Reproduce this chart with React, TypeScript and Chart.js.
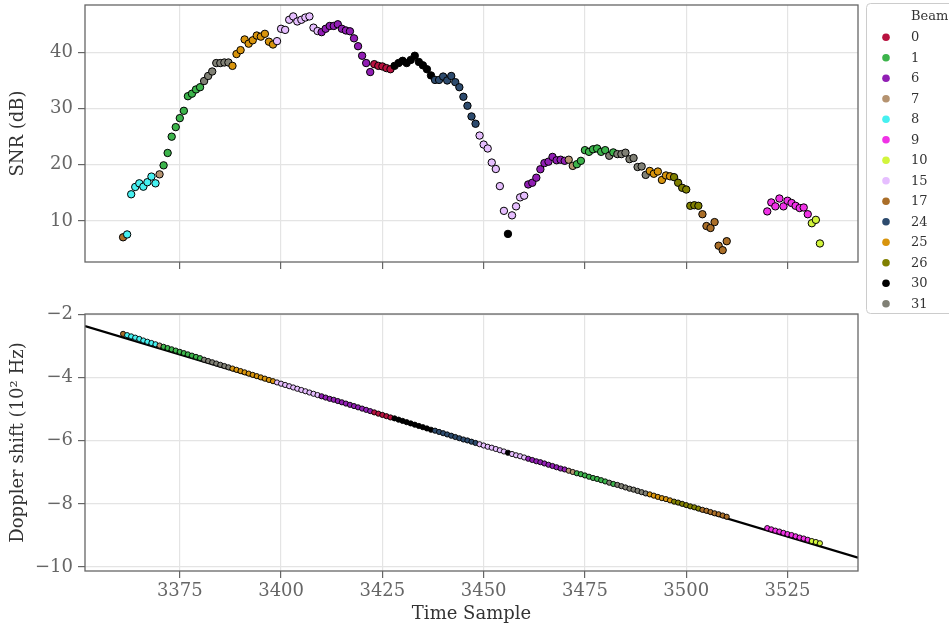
import React, { useEffect, useRef } from "react";
import { Chart, registerables } from "chart.js";

Chart.register(...registerables);

// ---------- data ----------
const timeSample = [
  3361, 3362, 3363, 3364, 3365, 3366, 3367, 3368, 3369, 3370,
  3371, 3372, 3373, 3374, 3375, 3376, 3377, 3378, 3379, 3380,
  3381, 3382, 3383, 3384, 3385, 3386, 3387, 3388, 3389, 3390,
  3391, 3392, 3393, 3394, 3395, 3396, 3397, 3398, 3399, 3400,
  3401, 3402, 3403, 3404, 3405, 3406, 3407, 3408, 3409, 3410,
  3411, 3412, 3413, 3414, 3415, 3416, 3417, 3418, 3419, 3420,
  3421, 3422, 3423, 3424, 3425, 3426, 3427, 3428, 3429, 3430,
  3431, 3432, 3433, 3434, 3435, 3436, 3437, 3438, 3439, 3440,
  3441, 3442, 3443, 3444, 3445, 3446, 3447, 3448, 3449, 3450,
  3451, 3452, 3453, 3454, 3455, 3456, 3457, 3458, 3459, 3460,
  3461, 3462, 3463, 3464, 3465, 3466, 3467, 3468, 3469, 3470,
  3471, 3472, 3473, 3474, 3475, 3476, 3477, 3478, 3479, 3480,
  3481, 3482, 3483, 3484, 3485, 3486, 3487, 3488, 3489, 3490,
  3491, 3492, 3493, 3494, 3495, 3496, 3497, 3498, 3499, 3500,
  3501, 3502, 3503, 3504, 3505, 3506, 3507, 3508, 3509, 3510,
  3520, 3521, 3522, 3523, 3524, 3525, 3526, 3527, 3528, 3529,
  3530, 3531, 3532, 3533,
];

const beamId = [
  17, 8, 8, 8, 8, 8, 8, 8, 8, 7,
  1, 1, 1, 1, 1, 1, 1, 1, 1, 1,
  31, 31, 31, 31, 31, 31, 31, 25, 25, 25,
  25, 25, 25, 25, 25, 25, 25, 25, 15, 15,
  15, 15, 15, 15, 15, 15, 15, 15, 15, 6,
  6, 6, 6, 6, 6, 6, 6, 6, 6, 6,
  6, 6, 0, 0, 0, 0, 0, 30, 30, 30,
  30, 30, 30, 30, 30, 30, 30, 24, 24, 24,
  24, 24, 24, 24, 24, 24, 24, 24, 15, 15,
  15, 15, 15, 15, 15, 30, 15, 15, 15, 15,
  6, 6, 6, 6, 6, 6, 6, 6, 6, 6,
  7, 7, 1, 1, 1, 1, 1, 1, 1, 1,
  31, 1, 31, 31, 31, 31, 31, 31, 31, 31,
  25, 25, 25, 25, 25, 25, 26, 26, 26, 26,
  26, 26, 26, 17, 17, 17, 17, 17, 17, 17,
  9, 9, 9, 9, 9, 9, 9, 9, 9, 9,
  9, 10, 10, 10,
];

const snrDb = [
  7.1, 7.6, 14.75, 16.05, 16.7, 16.1, 16.9, 17.9, 16.7, 18.3,
  19.9, 22.1, 25.0, 26.7, 28.3, 29.6, 32.2, 32.65, 33.4, 33.8,
  34.9, 35.8, 36.6, 38.1, 38.1, 38.2, 38.2, 37.6, 39.7, 40.4,
  42.3, 41.55, 42.15, 43.0, 42.8, 43.3, 41.9, 41.4, 42.0, 44.2,
  44.0, 45.8, 46.4, 45.5, 45.8, 46.2, 46.4, 44.4, 43.8, 43.6,
  44.2, 44.7, 44.7, 45.0, 44.2, 43.9, 43.75, 42.5, 41.1, 39.4,
  38.1, 36.5, 37.9, 37.6, 37.5, 37.2, 37.0, 37.6, 38.1, 38.5,
  38.1, 38.65, 39.4, 38.3, 37.7, 37.0, 35.9, 35.1, 35.1, 35.7,
  35.0, 35.8, 34.7, 33.8, 32.1, 30.5, 28.6, 27.3, 25.2, 23.6,
  22.9, 20.4, 19.25, 16.2, 11.8, 7.7, 11.0, 12.6, 14.2, 14.5,
  16.5, 16.8, 17.7, 19.2, 20.3, 20.55, 21.4, 20.8, 20.9, 20.7,
  20.9, 19.8, 20.1, 20.7, 22.6, 22.3, 22.75, 22.9, 22.3, 22.6,
  21.6, 22.2, 21.9, 21.9, 22.15, 21.0, 21.2, 19.6, 19.7, 18.2,
  18.9, 18.4, 18.8, 17.3, 18.1, 17.95, 17.8, 16.8, 15.9, 15.6,
  12.7, 12.8, 12.7, 11.2, 9.1, 8.75, 9.8, 5.6, 4.8, 6.4,
  11.7, 13.3, 12.6, 14.0, 12.6, 13.6, 13.2, 12.7, 12.3, 12.4,
  11.2, 9.6, 10.2, 6.0,
];

// Doppler shift in units of 10^2 Hz
const dopplerShift = [
  -2.61, -2.65, -2.69, -2.73, -2.77, -2.82, -2.86, -2.90, -2.94, -2.98,
  -3.02, -3.06, -3.10, -3.14, -3.18, -3.22, -3.26, -3.30, -3.34, -3.38,
  -3.43, -3.47, -3.51, -3.55, -3.59, -3.63, -3.67, -3.71, -3.75, -3.79,
  -3.83, -3.87, -3.91, -3.95, -3.99, -4.03, -4.07, -4.11, -4.15, -4.19,
  -4.23, -4.27, -4.31, -4.35, -4.39, -4.43, -4.47, -4.51, -4.55, -4.59,
  -4.63, -4.67, -4.70, -4.74, -4.78, -4.82, -4.86, -4.90, -4.94, -4.98,
  -5.02, -5.06, -5.10, -5.14, -5.18, -5.22, -5.26, -5.29, -5.33, -5.37,
  -5.41, -5.45, -5.49, -5.53, -5.57, -5.61, -5.65, -5.68, -5.72, -5.76,
  -5.80, -5.84, -5.88, -5.92, -5.96, -5.99, -6.03, -6.07, -6.11, -6.15,
  -6.19, -6.22, -6.26, -6.30, -6.34, -6.38, -6.42, -6.46, -6.49, -6.53,
  -6.57, -6.61, -6.65, -6.68, -6.72, -6.76, -6.80, -6.84, -6.88, -6.91,
  -6.95, -6.99, -7.03, -7.06, -7.10, -7.14, -7.18, -7.21, -7.25, -7.29,
  -7.33, -7.37, -7.40, -7.44, -7.48, -7.52, -7.55, -7.59, -7.63, -7.67,
  -7.70, -7.74, -7.78, -7.82, -7.85, -7.89, -7.93, -7.96, -8.00, -8.04,
  -8.08, -8.11, -8.15, -8.19, -8.22, -8.26, -8.30, -8.33, -8.37, -8.41,
  -8.77, -8.81, -8.85, -8.88, -8.92, -8.96, -8.99, -9.03, -9.07, -9.10,
  -9.14, -9.18, -9.21, -9.25,
];

// linear fit of the Doppler track (end points at the axis limits)
const fitTime = [3351.6, 3542.4];
const fitDoppler = [-2.36, -9.71];

const legendBeams = [0, 1, 6, 7, 8, 9, 10, 15, 17, 24, 25, 26, 30, 31];
const beamColors = [
  "#b8123f", "#3cb44b", "#911eb4", "#b59370", "#46f0f0", "#f032e6", "#d2f53c",
  "#e6beff", "#aa6e28", "#2d4b6e", "#d8940c", "#808000", "#000000", "#808075",
];

const xTicks = [3375, 3400, 3425, 3450, 3475, 3500, 3525];
const snrTicks = [10, 20, 30, 40];
const dopplerTicks = [-10, -8, -6, -4, -2];

const X_MIN = 3351.6;
const X_MAX = 3542.4;
const SNR_MIN = 2.7;
const SNR_MAX = 48.43;
const DOP_MIN = -10.13;
const DOP_MAX = -1.98;

// ---------- styling ----------
const FONT = "'DejaVu Serif', serif";
const TICK_COLOR = "#666666";
const TITLE_COLOR = "#333333";
const GRID_COLOR = "#e4e4e4";
const FRAME_COLOR = "#666666";

const colorOf = (b: number) => beamColors[legendBeams.indexOf(b)];
const fmtNum = (v: number) => (v < 0 ? "\u2212" + Math.abs(v) : String(v));

const framePlugin = {
  id: "frame",
  afterDatasetsDraw(chart: any) {
    const { ctx, chartArea: a } = chart;
    ctx.save();
    ctx.strokeStyle = FRAME_COLOR;
    ctx.lineWidth = 1.3;
    ctx.strokeRect(a.left, a.top, a.right - a.left, a.bottom - a.top);
    ctx.restore();
  },
};

const legendPlugin = {
  id: "beamLegend",
  afterDraw(chart: any) {
    const ctx = chart.ctx;
    ctx.save();
    ctx.beginPath();
    (ctx as any).roundRect(866.5, 3.5, 110, 310, 4);
    ctx.fillStyle = "rgba(255,255,255,0.85)";
    ctx.fill();
    ctx.strokeStyle = "#cccccc";
    ctx.lineWidth = 1;
    ctx.stroke();
    ctx.font = `13px ${FONT}`;
    ctx.fillStyle = TITLE_COLOR;
    ctx.textAlign = "left";
    ctx.textBaseline = "middle";
    ctx.fillText("Beam", 911, 16.5);
    legendBeams.forEach((b, i) => {
      const y = 37.3 + i * 20.5;
      ctx.beginPath();
      ctx.arc(886, y, 3.8, 0, Math.PI * 2);
      ctx.fillStyle = beamColors[i];
      ctx.fill();
      ctx.fillStyle = TITLE_COLOR;
      ctx.fillText(String(b), 911, y + 0.5);
    });
    ctx.restore();
  },
};

function xScale(showLabels: boolean, height: number): any {
  return {
    type: "linear",
    min: X_MIN,
    max: X_MAX,
    afterBuildTicks: (s: any) => {
      s.ticks = xTicks.map((v) => ({ value: v }));
    },
    afterFit: (s: any) => {
      s.height = height;
      s.paddingLeft = 0;
      s.paddingRight = 0;
    },
    border: { display: false },
    grid: {
      color: GRID_COLOR,
      lineWidth: 1.2,
      drawTicks: true,
      tickLength: 7,
      tickColor: TICK_COLOR,
      tickWidth: 1.2,
    },
    ticks: {
      display: showLabels,
      color: TICK_COLOR,
      font: { family: FONT, size: 18 },
      padding: 3,
      maxRotation: 0,
      autoSkip: false,
      callback: (v: any) => String(v),
    },
    title: {
      display: showLabels,
      text: "Time Sample",
      color: TITLE_COLOR,
      font: { family: FONT, size: 18 },
      padding: { top: 0, bottom: 0 },
    },
  };
}

function yScale(min: number, max: number, ticks: number[], title: string): any {
  return {
    type: "linear",
    min,
    max,
    afterBuildTicks: (s: any) => {
      s.ticks = ticks.map((v) => ({ value: v }));
    },
    afterFit: (s: any) => {
      s.width = 85;
      s.paddingTop = 0;
      s.paddingBottom = 0;
    },
    border: { display: false },
    grid: {
      color: GRID_COLOR,
      lineWidth: 1.2,
      drawTicks: true,
      tickLength: 7,
      tickColor: TICK_COLOR,
      tickWidth: 1.2,
    },
    ticks: {
      color: TICK_COLOR,
      font: { family: FONT, size: 18 },
      padding: 5,
      autoSkip: false,
      callback: (v: any) => fmtNum(v),
    },
    title: {
      display: true,
      text: title,
      color: TITLE_COLOR,
      font: { family: FONT, size: 18 },
      padding: { top: 8, bottom: 0 },
    },
  };
}

export default function App() {
  const topRef = useRef<HTMLCanvasElement>(null);
  const botRef = useRef<HTMLCanvasElement>(null);

  useEffect(() => {
    const pointColors = beamId.map((b) => colorOf(b));

    const topChart = new Chart(topRef.current as HTMLCanvasElement, {
      type: "scatter",
      data: {
        datasets: [
          {
            label: "SNR",
            data: timeSample.map((t, i) => ({ x: t, y: snrDb[i] })),
            pointBackgroundColor: pointColors,
            pointBorderColor: "#000000",
            pointBorderWidth: 1,
            pointRadius: 3.7,
            showLine: false,
          } as any,
        ],
      },
      options: {
        animation: false,
        responsive: false,
        maintainAspectRatio: false,
        events: [],
        layout: { padding: { left: 0, top: 5, right: 91, bottom: 0 } },
        plugins: { legend: { display: false }, tooltip: { enabled: false } },
        scales: {
          x: xScale(false, 58),
          y: yScale(SNR_MIN, SNR_MAX, snrTicks, "SNR (dB)"),
        },
      },
      plugins: [framePlugin, legendPlugin],
    } as any);

    const botChart = new Chart(botRef.current as HTMLCanvasElement, {
      type: "scatter",
      data: {
        datasets: [
          {
            label: "Doppler",
            data: timeSample.map((t, i) => ({ x: t, y: dopplerShift[i] })),
            pointBackgroundColor: pointColors,
            pointBorderColor: "#000000",
            pointBorderWidth: 0.9,
            pointRadius: 2.6,
            showLine: false,
            order: 0,
          } as any,
          {
            label: "fit",
            data: fitTime.map((t, i) => ({ x: t, y: fitDoppler[i] })),
            showLine: true,
            borderColor: "#000000",
            borderWidth: 2.3,
            pointRadius: 0,
            order: 1,
          } as any,
        ],
      },
      options: {
        animation: false,
        responsive: false,
        maintainAspectRatio: false,
        events: [],
        layout: { padding: { left: 0, top: 24, right: 91, bottom: 0 } },
        plugins: { legend: { display: false }, tooltip: { enabled: false } },
        scales: {
          x: xScale(true, 54),
          y: yScale(DOP_MIN, DOP_MAX, dopplerTicks, "Doppler shift (10\u00b2 Hz)"),
        },
      },
      plugins: [framePlugin],
    } as any);

    return () => {
      topChart.destroy();
      botChart.destroy();
    };
  }, []);

  return (
    <div
      style={{
        position: "absolute",
        left: 0,
        top: 0,
        width: 949,
        height: 625,
        overflow: "hidden",
        background: "#ffffff",
      }}
    >
      <canvas
        ref={topRef}
        width={949}
        height={320}
        style={{ position: "absolute", left: 0, top: 0, width: 949, height: 320 }}
      />
      <canvas
        ref={botRef}
        width={949}
        height={335}
        style={{ position: "absolute", left: 0, top: 290, width: 949, height: 335 }}
      />
    </div>
  );
}
